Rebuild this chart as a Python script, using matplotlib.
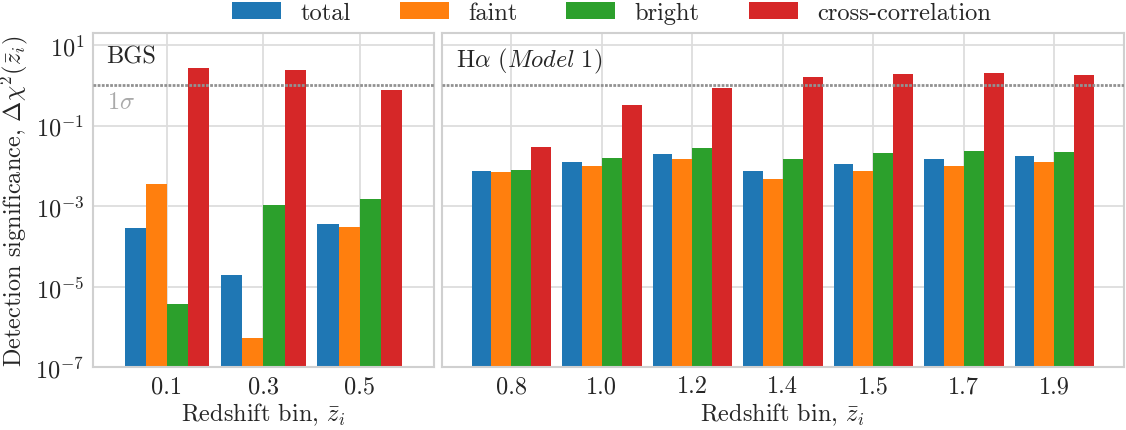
import numpy as np
import matplotlib
matplotlib.use('Agg')
import matplotlib.pyplot as plt
import seaborn as sns

# Data
bgs_bins = ['0.1', '0.3', '0.5']
bgs_total = [2.9e-4, 1.9e-5, 3.6e-4]
bgs_faint = [3.6e-3, 5.2e-7, 3.0e-4]
bgs_bright = [3.6e-6, 1.07e-3, 1.5e-3]
bgs_cross = [2.7, 2.4, 0.77]

ha_bins = ['0.8', '1.0', '1.2', '1.4', '1.5', '1.7', '1.9']
ha_total = [7.5e-3, 1.26e-2, 2.0e-2, 7.5e-3, 1.12e-2, 1.48e-2, 1.78e-2]
ha_faint = [7.1e-3, 1.0e-2, 1.48e-2, 4.8e-3, 7.5e-3, 1.0e-2, 1.26e-2]
ha_bright = [7.9e-3, 1.58e-2, 2.8e-2, 1.48e-2, 2.1e-2, 2.35e-2, 2.23e-2]
ha_cross = [0.0296, 0.33, 0.86, 1.6, 1.92, 2.03, 1.81]

labels = ['total', 'faint', 'bright', 'cross-correlation']
colors = ['#1f77b4', '#ff7f0e', '#2ca02c', '#d62728']

sns.set_style('whitegrid')
plt.rcParams['font.family'] = 'serif'
plt.rcParams['font.serif'] = ['cmr10']
plt.rcParams['mathtext.fontset'] = 'cm'
plt.rcParams['axes.formatter.use_mathtext'] = True
plt.rcParams['axes.unicode_minus'] = False
fs = 17.5

fig = plt.figure(figsize=(11.26, 4.31), dpi=100)
ax1 = fig.add_axes([92.7/1126, 63/431, (434-92.7)/1126, 334/431])
ax2 = fig.add_axes([441.7/1126, 63/431, (1124-441.7)/1126, 334/431], sharey=ax1)

w = 0.22
handles = []
for ax, bins, series in [(ax1, bgs_bins, [bgs_total, bgs_faint, bgs_bright, bgs_cross]),
                         (ax2, ha_bins, [ha_total, ha_faint, ha_bright, ha_cross])]:
    x = np.arange(len(bins))
    hs = []
    for k, vals in enumerate(series):
        hs.append(ax.bar(x + (k - 1.5)*w, vals, w, color=colors[k], label=labels[k],
                         linewidth=0, zorder=2))
    handles = hs
    # 1 sigma threshold
    ax.axhline(1.0, ls=(0, (1.0, 0.5)), color='#929292', lw=2.0, zorder=5)
    ax.set_yscale('log')
    ax.set_ylim(1e-7, 20)
    ax.set_yticks([1e-7, 1e-5, 1e-3, 1e-1, 1e1])
    ax.yaxis.set_minor_locator(matplotlib.ticker.NullLocator())
    ax.set_xticks(x)
    ax.set_xticklabels(bins)
    ax.set_xlim(-0.77, len(bins) - 0.23)
    ax.set_xlabel(r'Redshift bin, $\bar{z}_i$', fontsize=fs, color='#262626', labelpad=2)
    ax.tick_params(labelsize=fs, colors='#262626', length=0, pad=6)
    ax.grid(color='#dddddd', lw=1.3, zorder=0)
    for sp in ax.spines.values():
        sp.set_color('#d0d0d0')
        sp.set_linewidth(1.5)
    ax.set_axisbelow(True)

plt.setp(ax2.get_yticklabels(), visible=False)
ax1.set_ylabel(r'Detection significance, $\Delta\chi^2(\bar{z}_i)$', fontsize=fs, color='#262626')

ax1.annotate('BGS', xy=(0, 1), xycoords='axes fraction', xytext=(10, -9),
             textcoords='offset points', va='top', ha='left', fontsize=fs, color='#262626')
ax2.annotate(r'H$\alpha$ ($\mathit{Model\ 1}$)', xy=(0, 1), xycoords='axes fraction', xytext=(10, -9),
             textcoords='offset points', va='top', ha='left', fontsize=fs, color='#262626')
ax1.annotate(r'$1\sigma$', xy=(0, 1.0), xycoords=ax1.get_yaxis_transform(), xytext=(10, -4),
             textcoords='offset points', va='top', ha='left', fontsize=fs, color='#aaaaaa')

fig.legend(handles, labels, loc='center', bbox_to_anchor=(0.5432, 0.968), ncol=4,
           frameon=False, fontsize=17.6, handlelength=2.0, handletextpad=0.8,
           columnspacing=2.0, borderaxespad=0, labelcolor='#262626')

fig.savefig('out.png', dpi=100)
